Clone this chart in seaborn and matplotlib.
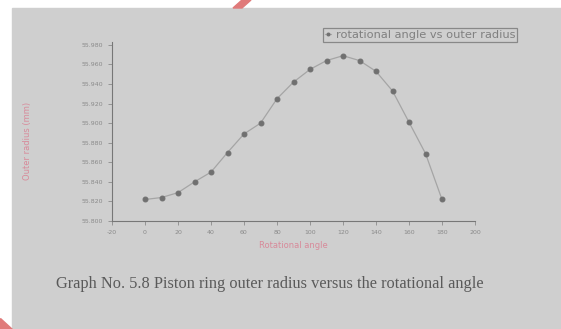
import pandas as pd
import matplotlib.pyplot as plt
import matplotlib.patches as mpatches
import seaborn as sns

# === Data ===
angle = [0, 10, 20, 30, 40, 50, 60, 70, 80, 90, 100, 110, 120, 130, 140, 150, 160, 170, 180]
outer_radius = [55.822, 55.824, 55.829, 55.840, 55.850, 55.870, 55.889, 55.900, 55.925, 55.942,
                55.955, 55.964, 55.969, 55.964, 55.953, 55.933, 55.901, 55.869, 55.822]
x_ticks = [-20, 0, 20, 40, 60, 80, 100, 120, 140, 160, 180, 200]
y_ticks = [55.80, 55.82, 55.84, 55.86, 55.88, 55.90, 55.92, 55.94, 55.96, 55.98]

df = pd.DataFrame({"angle": angle, "radius": outer_radius})

# === Settings ===
sns.set_theme(style="white")
plt.rcParams['font.family'] = ['DejaVu Sans']
W, H = 561, 329
fig = plt.figure(figsize=(W / 100, H / 100), dpi=100, facecolor="white")

# scanned page: grey area plus the red marks at the edges
fig.patches.append(mpatches.Rectangle((12 / W, 0), 1, 1 - 8 / H, transform=fig.transFigure,
                                      color="#cfcfcf", zorder=-10))
fig.patches.append(mpatches.Polygon([(242 / W, 1), (251 / W, 1), (242 / W, 1 - 8 / H), (233 / W, 1 - 8 / H)],
                                    closed=True, transform=fig.transFigure, color="#e07a7a", zorder=-9))
fig.patches.append(mpatches.Polygon([(0, 11 / H), (0, 0), (12 / W, 0)],
                                    closed=True, transform=fig.transFigure, color="#e07a7a", zorder=-9))

ax = fig.add_axes([112 / W, 1 - 221 / H, 363 / W, 179 / H])
ax.patch.set_alpha(0)

sns.lineplot(data=df, x="angle", y="radius", ax=ax, color="#a5a5a5", linewidth=0.9,
             marker="o", markersize=3.5, markerfacecolor="#707070", markeredgecolor="#707070",
             label="rotational angle vs outer radius")

ax.set_xlim(-20, 200)
ax.set_ylim(55.8, 55.983)
ax.set_xticks(x_ticks)
ax.set_xticklabels([str(t) for t in x_ticks])
ax.set_yticks(y_ticks)
ax.set_yticklabels([f"{t:.3f}" for t in y_ticks])
ax.tick_params(axis="both", labelsize=4.5, colors="#8a8a8a", length=3, width=0.6,
               direction="out", left=True, bottom=True)
for side in ["top", "right"]:
    ax.spines[side].set_visible(False)
for side in ["left", "bottom"]:
    ax.spines[side].set_color("#777777")
    ax.spines[side].set_linewidth(0.8)

ax.set_xlabel("Rotational angle", fontsize=6, color="#d88a9a", labelpad=4)
ax.set_ylabel("Outer radius (mm)", fontsize=6, color="#d88a9a")
ax.yaxis.set_label_coords(-0.22, 0.45)

leg = ax.legend(loc="center", bbox_to_anchor=(420 / W, 1 - 35 / H), bbox_transform=fig.transFigure,
                fontsize=8.2, frameon=True, fancybox=False, handlelength=0.6, handletextpad=0.4,
                borderpad=0.15, labelcolor="#808080", markerscale=0.6)
leg.get_frame().set_edgecolor("#777777")
leg.get_frame().set_linewidth(0.9)
leg.get_frame().set_facecolor("#cfcfcf")

fig.text(270 / W, 1 - 284 / H, "Graph No. 5.8 Piston ring outer radius versus the rotational angle",
         ha="center", va="center", fontsize=11.8, color="#5a5a5a", family="Liberation Serif")

fig.savefig("out.png", dpi=100, facecolor="white")
print("Plot saved.")
